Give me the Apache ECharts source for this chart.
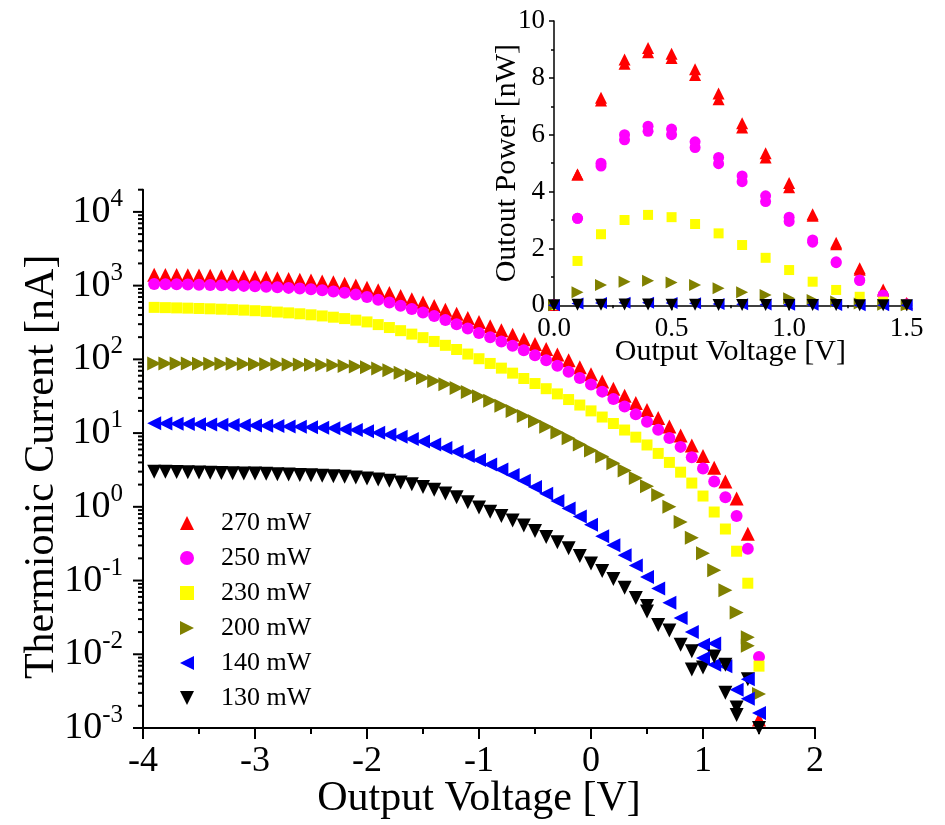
<!DOCTYPE html>
<html>
<head>
<meta charset="utf-8">
<title>Thermionic Current</title>
<script src="https://cdn.jsdelivr.net/npm/echarts@6/dist/echarts.min.js"></script>
<style>
  html, body { margin: 0; padding: 0; background: #fff; }
  #chart { width: 945px; height: 825px; }
</style>
</head>
<body>
<div id="chart"></div>
<script>
// 电压 (V)
const voltage = [
  -3.9, -3.8, -3.7, -3.6, -3.5, -3.4, -3.3, -3.2, -3.1, -3.0,
  -2.9, -2.8, -2.7, -2.6, -2.5, -2.4, -2.3, -2.2, -2.1, -2.0,
  -1.9, -1.8, -1.7, -1.6, -1.5, -1.4, -1.3, -1.2, -1.1, -1.0,
  -0.9, -0.8, -0.7, -0.6, -0.5, -0.4, -0.3, -0.2, -0.1, 0.0,
  0.1, 0.2, 0.3, 0.4, 0.5, 0.6, 0.7, 0.8, 0.9, 1.0,
  1.1, 1.2, 1.3, 1.4, 1.5
];
// 电流 (nA)
const current270 = [
  1400, 1395, 1390, 1380, 1370, 1360, 1345, 1330, 1315, 1300,
  1280, 1255, 1230, 1200, 1170, 1140, 1110, 1060, 1000, 935,
  865, 795, 725, 655, 590, 530, 470, 415, 365, 320,
  282, 248, 216, 188, 162, 138, 116, 97, 78, 63,
  50, 40, 32, 25.5, 20.5, 16, 12.3, 9.3, 6.8, 4.9,
  3.4, 2.2, 1.3, 0.43, 0.0013
];
const current250 = [
  1050, 1046, 1042, 1036, 1030, 1022, 1013, 1003, 992, 980,
  966, 950, 932, 912, 890, 865, 835, 800, 755, 700,
  645, 590, 535, 482, 432, 386, 342, 300, 262, 228,
  200, 175, 153, 133, 114, 97, 82, 68, 56, 45.5,
  36.5, 29, 23, 18, 14.2, 11.1, 8.6, 6.5, 4.7, 3.3,
  2.2, 1.35, 0.75, 0.27, 0.0092
];
const current230 = [
  507, 503, 499, 495, 490, 485, 479, 472, 465, 457,
  448, 438, 427, 415, 402, 388, 373, 357, 340, 322,
  296, 270, 245, 220, 197, 175, 155, 136, 118, 102,
  88, 76, 65, 55, 47, 40, 34, 28.5, 24, 20,
  16.5, 13.5, 11, 8.8, 6.9, 5.3, 4.0, 2.95, 2.1, 1.4,
  0.85, 0.5, 0.25, 0.092, 0.0069
];
const current200 = [
  88, 88, 88, 88, 87.5, 87.5, 87, 87, 86.5, 86,
  86, 85.5, 85, 85, 84.5, 84, 83, 81.5, 80, 78,
  75, 71, 66, 61, 56, 51, 46, 41, 36, 31.5,
  27.5, 23.5, 20, 17, 14.5, 12.2, 10.2, 8.5, 7.0, 5.8,
  4.8, 3.9, 3.1, 2.45, 1.9, 1.45, 1.0, 0.62, 0.38, 0.235,
  0.138, 0.074, 0.037, 0.017, 0.0029
];
const current140 = [
  13.6, 13.5, 13.4, 13.3, 13.2, 13.1, 13.0, 12.9, 12.8, 12.7,
  12.6, 12.5, 12.3, 12.2, 12.0, 11.8, 11.6, 11.3, 11.0, 10.6,
  10.1, 9.5, 8.9, 8.3, 7.7, 7.0, 6.3, 5.6, 4.9, 4.3,
  3.75, 3.2, 2.7, 2.25, 1.85, 1.5, 1.2, 0.95, 0.74, 0.57,
  0.4, 0.3, 0.22, 0.16, 0.112, 0.078, 0.05, 0.031, 0.02, 0.0135,
  0.0072, 0.0069, 0.0033, 0.0025, 0.0016
];
const current130 = [
  3.0, 2.98, 2.96, 2.94, 2.92, 2.9, 2.88, 2.86, 2.84, 2.82,
  2.8, 2.77, 2.74, 2.71, 2.68, 2.64, 2.6, 2.55, 2.5, 2.43,
  2.35, 2.25, 2.14, 2.02, 1.85, 1.7, 1.52, 1.35, 1.15, 0.98,
  0.86, 0.75, 0.65, 0.56, 0.47, 0.39, 0.33, 0.275, 0.215, 0.17,
  0.135, 0.105, 0.08, 0.058, 0.038, 0.025, 0.021, 0.0135, 0.011, 0.0066,
  0.0093, 0.0072, 0.0019, 0.0046, 0.001
];
// 第二次扫描的散点
const extraV140 = [1.0, 1.1, 1.4];
const extraI140 = [0.0089, 0.014, 0.0046];
const extraV130 = [0.5, 0.9, 1.2, 1.3];
const extraI130 = [0.045, 0.0062, 0.003, 0.0015];
const extraV200 = [1.4];
const extraI200 = [0.013];

// 小图：输出功率 (nW)
const powerV = [0.0, 0.1, 0.2, 0.3, 0.4, 0.5, 0.6, 0.7, 0.8, 0.9, 1.0, 1.1, 1.2, 1.3, 1.4, 1.5];
const power270 = [0.02, 4.6, 7.3, 8.65, 9.05, 8.85, 8.3, 7.45, 6.4, 5.35, 4.3, 3.2, 2.2, 1.3, 0.56, 0.08];
const power270b = [0.02, 4.6, 7.2, 8.5, 8.9, 8.7, 8.1, 7.25, 6.25, 5.2, 4.15, 3.15, 2.15, 1.25, 0.5, 0.06];
const power250 = [0.02, 3.06, 5.0, 6.0, 6.3, 6.2, 5.75, 5.2, 4.55, 3.85, 3.1, 2.3, 1.53, 0.89, 0.36, 0.05];
const power250b = [0.02, 3.06, 4.9, 5.82, 6.12, 6.0, 5.55, 4.98, 4.35, 3.65, 2.95, 2.22, 1.5, 0.87, 0.36, 0.05];
const power230 = [0.01, 1.56, 2.5, 3.0, 3.18, 3.1, 2.86, 2.53, 2.12, 1.67, 1.24, 0.83, 0.54, 0.3, 0.13, 0.02];
const power200 = [0.005, 0.46, 0.71, 0.83, 0.86, 0.8, 0.71, 0.6, 0.46, 0.36, 0.25, 0.19, 0.13, 0.06, 0.02, 0.003];
const power140 = [0.003, 0.06, 0.08, 0.09, 0.09, 0.08, 0.07, 0.05, 0.04, 0.03, 0.02, 0.015, 0.01, 0.006, 0.004, 0.002];
const power130 = [0.001, 0.015, 0.02, 0.025, 0.025, 0.02, 0.015, 0.013, 0.01, 0.01, 0.007, 0.01, 0.008, 0.002, 0.006, 0.001];

const seriesNames = ["270 mW", "250 mW", "230 mW", "200 mW", "140 mW", "130 mW"];
const colorList = ["#ff0000", "#ff00ff", "#ffff00", "#808000", "#0000ff", "#000000"];
const symbolList = ["triangle", "circle", "rect", "triangle", "triangle", "triangle"];
const rotateList = [0, 0, 0, -90, 90, 180];
const sizeList = [14, 12, 11, 14, 14, 14];
const insetSizeList = [12, 11, 10, 12, 12, 12];
// 图例图标（旋转后的三角形）
const legendIcons = [
  "triangle",
  "circle",
  "rect",
  "path://M0,0 L10,5 L0,10 Z",
  "path://M10,0 L0,5 L10,10 Z",
  "path://M0,0 L10,0 L5,10 Z"
];

const yDecades = [-3, -2, -1, 0, 1, 2, 3, 4];
const yMax = 20000;

const FONT = "Liberation Serif";

function zip(xs, ys) {
  return xs.map((x, i) => [x, ys[i]]);
}

// log 轴的主/次刻度 (2..9)
const yMajorTicks = [];
const yMinorTicks = [];
yDecades.forEach(k => {
  const base = Math.pow(10, k);
  yMajorTicks.push([-4, base]);
  for (let m = 2; m <= 9; m++) {
    if (m * base <= yMax * 1.0001) yMinorTicks.push([-4, m * base]);
  }
});

const mainData = [current270, current250, current230, current200, current140, current130];
const powerData = [power270, power250, power230, power200, power140, power130];

function scatter(idx, data, axis, size) {
  return {
    name: seriesNames[idx],
    type: "scatter",
    xAxisIndex: axis,
    yAxisIndex: axis,
    symbol: symbolList[idx],
    symbolRotate: rotateList[idx],
    symbolSize: size,
    itemStyle: { color: colorList[idx], opacity: 1 },
    data: data
  };
}

function tickSeries(name, data, len) {
  return {
    name: name,
    type: "scatter",
    xAxisIndex: 0,
    yAxisIndex: 0,
    silent: true,
    clip: false,
    z: 5,
    symbol: "rect",
    symbolSize: [len, 2],
    symbolOffset: [-len / 2, 0],
    itemStyle: { color: "#000", opacity: 1 },
    data: data
  };
}

const series = [];
mainData.forEach((arr, i) => {
  series.push(scatter(i, zip(voltage, arr), 0, sizeList[i]));
});
series.push(scatter(3, zip(extraV200, extraI200), 0, sizeList[3]));
series.push(scatter(4, zip(extraV140, extraI140), 0, sizeList[4]));
series.push(scatter(5, zip(extraV130, extraI130), 0, sizeList[5]));

series.push(scatter(0, zip(powerV, power270b), 1, insetSizeList[0]));
series.push(scatter(1, zip(powerV, power250b), 1, insetSizeList[1]));
powerData.forEach((arr, i) => {
  series.push(scatter(i, zip(powerV, arr), 1, insetSizeList[i]));
});

series.push(tickSeries("yMajorTick", yMajorTicks, 10));
series.push(tickSeries("yMinorTick", yMinorTicks, 5));

const axisLineStyle = { color: "#000", width: 2 };
const insetLineStyle = { color: "#000", width: 1.5 };

const option = {
  backgroundColor: "#fff",
  animation: false,
  textStyle: { fontFamily: FONT, color: "#000" },
  legend: {
    data: seriesNames.map((name, i) => ({ name: name, icon: legendIcons[i] })),
    orient: "vertical",
    left: 175,
    top: 505,
    itemWidth: 14,
    itemHeight: 14,
    itemGap: 9,
    textStyle: {
      fontFamily: FONT,
      fontSize: 26,
      color: "#000",
      lineHeight: 26,
      padding: [0, 0, 0, 22]
    }
  },
  grid: [
    { left: 143, right: 130, top: 189.7, bottom: 94.3 },
    { left: 554, right: 38.3, top: 21, bottom: 519.7 }
  ],
  xAxis: [
    {
      type: "value",
      gridIndex: 0,
      min: -4,
      max: 2,
      interval: 1,
      name: "Output Voltage [V]",
      nameLocation: "middle",
      nameGap: 50,
      nameMoveOverlap: false,
      nameTextStyle: { fontFamily: FONT, fontSize: 42, color: "#000" },
      axisLine: { show: true, onZero: false, lineStyle: axisLineStyle },
      axisTick: { show: true, length: 11, lineStyle: axisLineStyle },
      minorTick: { show: true, splitNumber: 2, length: 6, lineStyle: axisLineStyle },
      axisLabel: { fontFamily: FONT, fontSize: 36, color: "#000", margin: 16 },
      splitLine: { show: false }
    },
    {
      type: "value",
      gridIndex: 1,
      min: 0,
      max: 1.5,
      interval: 0.5,
      name: "Output Voltage [V]",
      nameLocation: "middle",
      nameGap: 32,
      nameMoveOverlap: false,
      nameTextStyle: { fontFamily: FONT, fontSize: 30, color: "#000" },
      axisLine: { show: true, onZero: false, lineStyle: insetLineStyle },
      axisTick: { show: true, length: 5, lineStyle: insetLineStyle },
      minorTick: { show: true, splitNumber: 2, length: 3, lineStyle: insetLineStyle },
      axisLabel: {
        fontFamily: FONT,
        fontSize: 27,
        color: "#000",
        margin: 10,
        formatter: v => v.toFixed(1)
      },
      splitLine: { show: false }
    }
  ],
  yAxis: [
    {
      type: "log",
      logBase: 10,
      gridIndex: 0,
      min: 0.001,
      max: yMax,
      splitNumber: 7,
      name: "Thermionic Current [nA]",
      nameLocation: "middle",
      nameGap: 80,
      nameMoveOverlap: false,
      nameTextStyle: {
        fontFamily: FONT,
        fontSize: 42,
        color: "#000",
        padding: [0, 16, 0, 0]
      },
      axisLine: { show: true, onZero: false, lineStyle: axisLineStyle },
      axisTick: { show: false },
      axisLabel: {
        margin: 20,
        showMaxLabel: false,
        formatter: function(v) {
          const e = Math.log10(v);
          const r = Math.round(e);
          if (Math.abs(e - r) > 1e-6) return "";
          return "{b|10}{s|" + r + "}";
        },
        rich: {
          b: { fontFamily: FONT, fontSize: 38, color: "#000", lineHeight: 50 },
          s: { fontFamily: FONT, fontSize: 25, color: "#000", lineHeight: 25, verticalAlign: "top" }
        }
      },
      splitLine: { show: false }
    },
    {
      type: "value",
      gridIndex: 1,
      min: 0,
      max: 10,
      interval: 2,
      name: "Outout Power [nW]",
      nameLocation: "middle",
      nameGap: 32,
      nameMoveOverlap: false,
      nameTextStyle: { fontFamily: FONT, fontSize: 30, color: "#000" },
      axisLine: { show: true, onZero: false, lineStyle: insetLineStyle },
      axisTick: { show: true, length: 5, lineStyle: insetLineStyle },
      minorTick: { show: true, splitNumber: 2, length: 3, lineStyle: insetLineStyle },
      axisLabel: { fontFamily: FONT, fontSize: 27, color: "#000", margin: 9 },
      splitLine: { show: false }
    }
  ],
  series: series
};

const chart = echarts.init(document.getElementById("chart"));
chart.setOption(option);
</script>
</body>
</html>
